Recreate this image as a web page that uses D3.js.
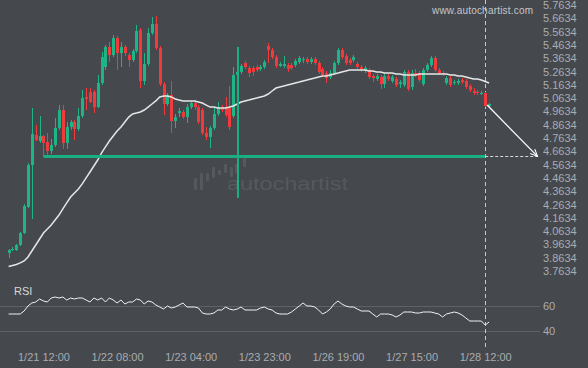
<!DOCTYPE html>
<html><head><meta charset="utf-8">
<script src="https://cdn.jsdelivr.net/npm/d3@7"></script>
<style>html,body{margin:0;padding:0;background:#45484d;}svg{display:block;}</style>
</head><body><svg id="c" width="588" height="368"></svg>
<script>
// ---- data ----
const open = [3.899,3.921,3.921,3.959,4.049,4.245,4.560,4.786,4.741,4.778,
4.733,4.666,4.711,4.839,4.974,4.726,4.846,4.884,4.831,4.929,
5.072,5.109,5.109,4.996,5.177,5.297,5.448,5.387,5.515,5.402,
5.448,5.387,5.350,5.418,5.575,5.192,5.320,5.553,5.621,5.440,
5.169,5.019,5.087,4.891,4.951,4.959,4.921,4.996,5.026,4.996,
4.974,4.801,4.771,4.839,4.944,4.996,4.996,4.996,4.929,5.237,
5.260,5.327,5.290,5.290,5.297,5.282,5.297,5.455,5.425,5.372,
5.305,5.305,5.312,5.312,5.312,5.335,5.350,5.357,5.335,5.357,
5.327,5.282,5.252,5.222,5.252,5.327,5.425,5.380,5.350,5.350,
5.320,5.297,5.267,5.275,5.229,5.207,5.222,5.169,5.229,5.192,
5.207,5.169,5.162,5.260,5.147,5.252,5.252,5.169,5.275,5.312,
5.365,5.275,5.252,5.177,5.214,5.177,5.177,5.199,5.192,5.154,
5.117,5.109,5.094,5.102,5.004];
const high = [3.929,3.944,3.966,4.057,4.267,4.575,4.989,4.861,4.929,4.786,
4.801,4.756,4.914,5.011,5.011,4.884,4.899,4.899,4.989,5.124,
5.139,5.139,5.124,5.237,5.410,5.463,5.485,5.538,5.530,5.485,
5.463,5.402,5.433,5.613,5.590,5.402,5.590,5.673,5.681,5.455,
5.184,5.102,5.192,4.944,4.989,4.974,5.019,5.042,5.049,5.011,
4.989,4.846,4.854,4.996,5.034,5.011,5.072,5.154,5.297,5.275,
5.320,5.342,5.305,5.305,5.312,5.312,5.350,5.478,5.440,5.387,
5.335,5.380,5.327,5.327,5.357,5.380,5.372,5.372,5.372,5.372,
5.342,5.297,5.267,5.275,5.342,5.440,5.440,5.395,5.365,5.387,
5.335,5.312,5.305,5.290,5.245,5.245,5.237,5.245,5.245,5.237,
5.222,5.199,5.275,5.275,5.275,5.282,5.267,5.290,5.327,5.380,
5.380,5.290,5.267,5.229,5.229,5.199,5.207,5.214,5.207,5.169,
5.139,5.124,5.117,5.109,5.026];
const low = [3.861,3.914,3.914,3.951,4.042,4.237,4.154,4.741,4.726,4.621,
4.636,4.643,4.696,4.824,4.681,4.681,4.824,4.748,4.816,4.914,
4.974,5.026,4.951,4.989,5.162,5.275,5.335,5.372,5.275,5.297,
5.380,5.297,5.335,5.402,5.139,5.162,5.305,5.538,5.425,5.154,
4.936,5.004,4.801,4.839,4.921,4.906,4.876,4.981,4.974,4.869,
4.786,4.748,4.688,4.824,4.929,4.959,4.921,4.824,4.914,5.222,
5.245,5.282,5.222,5.229,5.260,5.267,5.282,5.327,5.357,5.290,
5.297,5.290,5.260,5.275,5.297,5.320,5.327,5.320,5.320,5.312,
5.245,5.222,5.177,5.207,5.237,5.312,5.357,5.312,5.312,5.335,
5.282,5.260,5.252,5.207,5.184,5.192,5.132,5.139,5.192,5.177,
5.147,5.139,5.147,5.117,5.124,5.222,5.184,5.154,5.260,5.297,
5.260,5.237,5.229,5.162,5.147,5.162,5.162,5.169,5.132,5.109,
5.087,5.087,5.087,4.996,4.996];
const close = [3.921,3.929,3.959,4.049,4.252,4.560,4.794,4.748,4.778,4.726,
4.666,4.711,4.839,4.974,4.726,4.846,4.884,4.831,4.929,5.064,
5.057,5.034,4.996,5.177,5.372,5.448,5.387,5.515,5.402,5.448,
5.402,5.350,5.418,5.568,5.192,5.320,5.553,5.621,5.440,5.169,
5.019,5.087,4.891,4.921,4.966,4.921,4.996,5.026,4.996,4.884,
4.801,4.771,4.839,4.944,4.996,4.974,4.936,4.846,5.237,5.260,
5.305,5.297,5.252,5.260,5.275,5.297,5.335,5.425,5.372,5.305,
5.320,5.320,5.282,5.290,5.342,5.365,5.357,5.335,5.357,5.327,
5.260,5.237,5.214,5.252,5.327,5.425,5.372,5.327,5.327,5.372,
5.297,5.275,5.290,5.222,5.214,5.229,5.169,5.229,5.207,5.222,
5.162,5.184,5.260,5.132,5.252,5.237,5.199,5.275,5.312,5.365,
5.275,5.252,5.245,5.214,5.162,5.184,5.192,5.184,5.147,5.124,
5.102,5.102,5.102,5.004,5.019];
const movingAvg = [3.797,3.805,3.812,3.824,3.839,3.869,3.914,3.959,4.004,4.049,
4.079,4.109,4.147,4.184,4.230,4.275,4.320,4.350,4.380,4.418,
4.463,4.508,4.553,4.598,4.651,4.696,4.741,4.778,4.816,4.846,
4.884,4.921,4.944,4.951,4.959,4.974,4.996,5.019,5.042,5.072,
5.079,5.079,5.072,5.057,5.049,5.042,5.042,5.042,5.042,5.034,
5.026,5.011,4.996,4.996,4.989,4.989,4.989,4.996,5.004,5.019,
5.034,5.042,5.049,5.057,5.064,5.072,5.079,5.094,5.117,5.139,
5.147,5.154,5.162,5.169,5.177,5.184,5.192,5.199,5.207,5.214,
5.222,5.229,5.229,5.237,5.245,5.252,5.260,5.267,5.275,5.275,
5.275,5.275,5.275,5.267,5.267,5.260,5.260,5.252,5.252,5.252,
5.245,5.245,5.237,5.237,5.237,5.237,5.245,5.245,5.245,5.245,
5.245,5.245,5.245,5.245,5.237,5.237,5.229,5.229,5.222,5.214,
5.207,5.207,5.199,5.188,5.177];
const rsi = [53.6,53.6,53.6,53.6,56,60,62.4,63.2,65.6,64,
63.2,66.4,67.2,66.4,67.2,64.8,66.4,65.6,66.4,66.4,
64.8,63.2,66.4,64.8,66.4,63.2,66.4,64.8,62.4,64.8,
61.6,63.2,63.2,65.6,64.8,61.6,64,63.2,60.8,59.2,
57.6,60,58.4,59.2,60.8,62.4,59.2,59.2,59.2,58.4,
54.4,53.6,53.6,54.4,56.8,56.8,59.2,57.6,56.8,57.6,
59.2,56.8,56.8,56.8,56.8,58.4,59.2,57.6,56.8,54.4,
53.6,53.6,53.6,55.2,57.6,60,62.4,60,60,59.2,
56.8,53.6,55.2,57.6,61.6,64,61.6,60,59.2,59.2,
57.6,56,56,56,53.6,51.2,53.6,53.6,53.6,52.8,
51.2,52.8,55.2,55.2,55.2,54.4,54.4,55.2,55.2,55.2,
54.4,53.6,51.2,53.6,54.4,55.2,54.4,52.8,50.4,48,
48,48,48,44.8,47.2];
const priceTicks = [3.7634,3.8634,3.9634,4.0634,4.1634,4.2634,4.3634,4.4634,4.5634,4.6634,
4.7634,4.8634,4.9634,5.0634,5.1634,5.2634,5.3634,5.4634,5.5634,5.6634,5.7634];
const timeLabels = ["1/21 12:00","1/22 08:00","1/23 04:00","1/23 23:00","1/26 19:00","1/27 15:00","1/28 12:00"];
const timeTickIndex = [9,28,47,66,85,104,123];
const rsiTicks = [40,60];
// pattern: support level, start / end candle, breakout candle, forecast
const supportLevel = 4.625;
const supportStart = 9, supportEnd = 123;
const breakoutIndex = 59, breakoutTop = 5.448, breakoutBottom = 4.312;
const forecastFrom = {i:123.5, p:5.011}, forecastTo = {i:136.5, p:4.625};

// ---- drawing ----
const W=588,H=368;
const BG="#45484d", UP="#1db486", DN="#f2393c", PAT="#1aae83", TXT="#a9acb0";
const FONT="'Liberation Sans', Arial, sans-serif";
const svg=d3.select("#c");
svg.append("rect").attr("width",W).attr("height",H).attr("fill",BG);
const n=open.length;
const x=d3.scaleLinear().domain([0,n-1]).range([8.6,489.1]);
const y=d3.scaleLinear().domain([3.7634,5.7634]).range([271,5]);
const yR=d3.scaleLinear().domain([40,60]).range([331,306]);

// watermark
const wm=svg.append("g").attr("fill","#55595e");
const bars=[[194,178,190],[200,173,190],[206,173,181],[212,167,178],[218,170,175],[224,164,173],[230,167,177],[235,164,173],[243,158,167]];
bars.forEach(b=>wm.append("rect").attr("x",b[0]).attr("y",b[1]).attr("width",3).attr("height",b[2]-b[1]).attr("rx",1));
wm.append("text").attr("x",227).attr("y",190).attr("textLength",121).attr("lengthAdjust","spacingAndGlyphs")
  .style("font","19px "+FONT).text("autochartist");
svg.append("text").attr("x",432).attr("y",14).attr("textLength",101).attr("lengthAdjust","spacing")
  .attr("fill","#c4c6c9").style("font","10px "+FONT).text("www.autochartist.com");

// RSI gridlines
svg.append("g").selectAll("line").data(rsiTicks).join("line")
  .attr("x1",0).attr("x2",540).attr("y1",d=>Math.round(yR(d))+0.5).attr("y2",d=>Math.round(yR(d))+0.5)
  .attr("stroke","#5e6267").attr("stroke-width",1);

// dashed vertical at last pattern candle
svg.append("line").attr("x1",Math.round(x(supportEnd))+0.5).attr("x2",Math.round(x(supportEnd))+0.5)
  .attr("y1",0).attr("y2",350).attr("stroke","#c8c8c8").attr("stroke-dasharray","4,3");

// candles
const idx=d3.range(n);
const cg=svg.append("g");
cg.selectAll("line").data(idx).join("line")
  .attr("x1",i=>Math.round(x(i))+0.5).attr("x2",i=>Math.round(x(i))+0.5)
  .attr("y1",i=>y(high[i])).attr("y2",i=>y(low[i]))
  .attr("stroke",i=>close[i]>=open[i]?UP:DN).attr("stroke-width",1);
cg.selectAll("rect").data(idx).join("rect")
  .attr("x",i=>Math.round(x(i))-1).attr("width",3)
  .attr("y",i=>y(Math.max(open[i],close[i])))
  .attr("height",i=>Math.max(1,Math.abs(y(open[i])-y(close[i]))))
  .attr("fill",i=>close[i]>=open[i]?UP:DN);

// moving average
svg.append("path").datum(idx).attr("fill","none").attr("stroke","#e6e6e6").attr("stroke-width",1.5)
  .attr("d",d3.line().x(i=>x(i)).y(i=>y(movingAvg[i])));

// pattern lines
svg.append("line").attr("x1",x(supportStart)).attr("x2",x(supportEnd))
  .attr("y1",y(supportLevel)).attr("y2",y(supportLevel)).attr("stroke",PAT).attr("stroke-width",3);
svg.append("line").attr("x1",Math.round(x(breakoutIndex))+1).attr("x2",Math.round(x(breakoutIndex))+1)
  .attr("y1",y(breakoutTop)).attr("y2",y(breakoutBottom)).attr("stroke",PAT).attr("stroke-width",2);

// forecast
svg.append("defs").append("marker").attr("id","ah").attr("viewBox","0 0 10 10").attr("refX",9).attr("refY",5)
  .attr("markerWidth",8).attr("markerHeight",8).attr("orient","auto").attr("markerUnits","userSpaceOnUse")
  .append("path").attr("d","M0,1 L9,5 L0,9").attr("fill","none").attr("stroke","#ffffff").attr("stroke-width",1.3);
svg.append("line").attr("x1",x(supportEnd)).attr("x2",x(forecastTo.i))
  .attr("y1",Math.round(y(supportLevel))+0.5).attr("y2",Math.round(y(supportLevel))+0.5)
  .attr("stroke","#d8d8d8").attr("stroke-dasharray","3,2");
svg.append("line").attr("x1",x(forecastFrom.i)).attr("y1",y(forecastFrom.p))
  .attr("x2",x(forecastTo.i)).attr("y2",y(forecastTo.p))
  .attr("stroke","#ffffff").attr("stroke-width",1.3).attr("marker-end","url(#ah)");

// RSI line
svg.append("path").datum(idx).attr("fill","none").attr("stroke","#f2f2f2").attr("stroke-width",1)
  .attr("d",d3.line().x(i=>x(i)).y(i=>yR(rsi[i])));
svg.append("text").attr("x",14).attr("y",295).attr("fill","#d8d8d8").style("font","11px "+FONT).text("RSI");

// axes
function styleAxis(g){g.select(".domain").remove();g.selectAll("line").remove();
  g.selectAll("text").attr("fill",TXT).style("font","11px "+FONT);}
svg.append("g").attr("transform","translate(543,0)")
  .call(d3.axisRight(y).tickValues(priceTicks).tickFormat(d=>d.toFixed(4)).tickSize(0).tickPadding(0)).call(styleAxis);
svg.append("g").attr("transform","translate(543,0)")
  .call(d3.axisRight(yR).tickValues(rsiTicks).tickSize(0).tickPadding(0)).call(styleAxis);
svg.append("g").attr("transform","translate(0,353)")
  .call(d3.axisBottom(x).tickValues(timeTickIndex).tickFormat((d,i)=>timeLabels[i]).tickSize(0).tickPadding(0)).call(styleAxis);
</script></body></html>
